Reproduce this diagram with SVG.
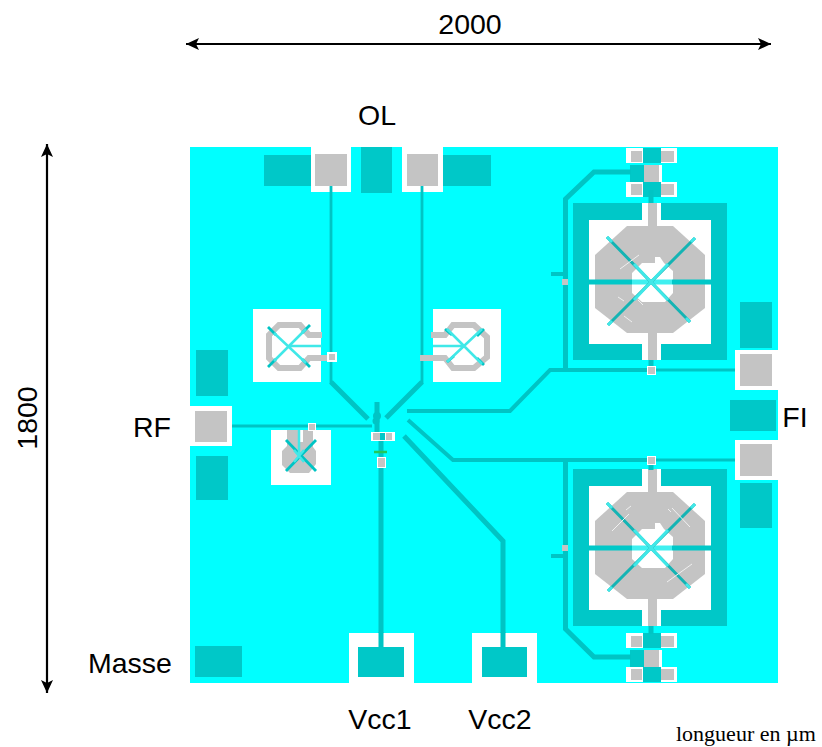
<svg xmlns="http://www.w3.org/2000/svg" xmlns:xlink="http://www.w3.org/1999/xlink" width="822" height="747" viewBox="0 0 822 747">
<style>
.d{fill:#00c8c8}.g{fill:#c4c4c4}.w{fill:#fff}.c{fill:#00ffff}
.l{fill:none;stroke:#00c4c4;stroke-width:5}
.m4{fill:none;stroke:#00c4c4;stroke-width:4}
.t{fill:none;stroke:#00c4c4;stroke-width:2.800}
.dg{fill:none;stroke:#14b4b4;stroke-width:3}
.cy{fill:none;stroke:#40e8e8;stroke-width:3}
.hl{fill:none;stroke:#f0f0f0;stroke-width:1}
.a{fill:none;stroke:#000;stroke-width:2.200;marker-start:url(#s);marker-end:url(#e)}
text{font-family:"Liberation Sans",Arial,sans-serif;font-size:28.500px;fill:#000}
.m{text-anchor:middle}
</style>
<defs>
<marker id="e" markerUnits="userSpaceOnUse" markerWidth="14" markerHeight="12" refX="13" refY="6" orient="auto"><path d="M0 0L13 6L0 12L3 6Z" fill="#000"/></marker>
<marker id="s" markerUnits="userSpaceOnUse" markerWidth="14" markerHeight="12" refX="1" refY="6" orient="auto"><path d="M14 0L1 6L14 12L11 6Z" fill="#000"/></marker>
<g id="bigInd">
<rect class="d" x="573" y="0" width="154" height="157"/>
<rect class="w" x="589" y="17" width="122" height="124"/>
<rect class="w" x="642" y="0" width="19" height="20"/><rect class="w" x="642" y="138" width="19" height="19"/>
<rect class="g" x="648" y="0" width="9" height="26"/><rect class="g" x="648" y="128" width="9" height="29"/>
<path class="g" d="M627 23H673L705 52V105L673 130H627L595 105V52Z"/>
<path class="w" d="M632 70L642 60H655V54H660L664 60L673 68V90L665 99H642L632 90Z"/>
<path d="M589 79H632" stroke="#00c8c8" stroke-width="5"/><path d="M672 79H711" stroke="#00c8c8" stroke-width="5"/>
<path d="M632 79H672" stroke="#40f0f0" stroke-width="5"/>
<path class="dg" d="M607 34L690 119M695 35L608 122"/>
<path class="cy" d="M634 61L668 97M668 61L634 97"/>
<path class="cy" d="M607 34L612 39M690 119L686 115M695 35L691 39M608 122L612 118"/>
</g>
<g id="chk">
<rect class="w" x="626" y="0" width="51" height="15"/><rect class="g" x="631" y="3" width="11" height="11"/><rect class="d" x="643" y="0" width="18" height="15"/><rect class="g" x="661" y="3" width="13" height="11"/>
<rect class="d" x="630" y="17" width="14" height="17"/><rect class="w" x="644" y="17" width="18" height="17"/><rect class="g" x="644" y="17" width="15" height="17"/>
<rect class="w" x="626" y="34" width="51" height="15"/><rect class="g" x="631" y="36" width="11" height="11"/><rect class="d" x="643" y="34" width="18" height="15"/><rect class="g" x="661" y="36" width="13" height="11"/>
</g>
</defs>
<rect id="chip" class="c" x="190" y="147" width="588" height="536"/>
<g id="ind-top"><use xlink:href="#bigInd" href="#bigInd" y="203"/>
<path class="hl" d="M620 269L639 255M618 297L624 301M638 300L643 305M624 316L632 322"/></g>
<g id="ind-bottom"><use xlink:href="#bigInd" href="#bigInd" y="469"/>
<path class="hl" d="M612 531L629 514M626 510L631 506M672 508L690 527M668 509L671 512M667 582L692 564"/></g>
<g id="chk-top"><use xlink:href="#chk" href="#chk" y="148"/></g>
<g id="chk-bottom"><use xlink:href="#chk" href="#chk" y="633"/></g>
<g id="connectors">
<path class="l" d="M631 172H594L565.500 199V370"/>
<path class="l" d="M631 657H594L565.500 629V460"/>
<path class="m4" d="M551 274H566M551 556H566"/>
<path class="l" d="M651 190V203M651 360V370M651 460V470M651 626V634"/>
<path class="m4" d="M407 411H510L550 370H650M408 420L453 460H650"/>
<path class="t" d="M650 370H737M650 460H737"/>
<path class="t" d="M331 192V384M422 192V384"/>
<path class="l" d="M331 382L368 419M422 382L386 418"/>
<path class="t" d="M228 426H372"/>
<path class="l" d="M377 402V432M381 440V647M503 647V541L404 436"/>
<circle cx="377" cy="416" r="4" fill="#00c4c4"/><circle cx="376" cy="421" r="3.500" fill="#00c4c4"/>
</g>
<g id="pads-top">
<rect class="d" x="264" y="155" width="47" height="31"/>
<rect class="w" x="311" y="147" width="40" height="45"/><rect class="g" x="315" y="154" width="32" height="32"/>
<rect class="d" x="361" y="147" width="31" height="46"/>
<rect class="w" x="402" y="147" width="41" height="45"/><rect class="g" x="407" y="154" width="31" height="32"/>
<rect class="d" x="443" y="155" width="48" height="31"/>
<path class="t" d="M331 186V192M422 186V192"/>
</g>
<g id="pads-right">
<rect class="d" x="740" y="302" width="32" height="46"/>
<rect class="w" x="735" y="350" width="43" height="40"/><rect class="g" x="740" y="354" width="32" height="32"/>
<rect class="d" x="730" y="400" width="46" height="31"/>
<rect class="w" x="735" y="440" width="43" height="40"/><rect class="g" x="740" y="444" width="32" height="32"/>
<rect class="d" x="740" y="483" width="32" height="45"/>
</g>
<g id="pads-left">
<rect class="d" x="196" y="350" width="32" height="46"/>
<rect class="w" x="190" y="406" width="42" height="40"/><rect class="g" x="195" y="411" width="32" height="31"/>
<rect class="d" x="196" y="456" width="32" height="44"/>
<rect class="d" x="195" y="646" width="47" height="31"/>
</g>
<g id="pads-bottom">
<rect class="w" x="349" y="633" width="65" height="50"/><rect class="d" x="358" y="647" width="46" height="30"/>
<rect class="w" x="472" y="633" width="65" height="50"/><rect class="d" x="482" y="647" width="45" height="30"/>
<path class="l" d="M381 632V647M503 632V647"/>
</g>
<g id="ind-left">
<rect class="w" x="253" y="309" width="68" height="73"/>
<path fill="none" stroke="#c4c4c4" stroke-width="6" d="M322 335H309L300 325H279L269 335V358L279 368H300L309 358H328"/>
<path class="t" d="M268 327L276 335M310 325L302 333M268 367L276 359M310 367L302 359"/>
<path fill="none" stroke="#40e8e8" stroke-width="2.500" d="M274 333L306 363M306 329L274 361M289 346H322"/>
<rect class="w" x="327" y="352" width="10" height="10"/><rect class="g" x="329" y="354" width="6" height="6"/>
</g>
<g id="ind-right">
<rect class="w" x="433" y="309" width="68" height="73"/>
<path fill="none" stroke="#c4c4c4" stroke-width="6" d="M431 335H445L453 325H474L487 337V357L474 368H453L445 358H420"/>
<path class="t" d="M445 329L452 335M484 329L477 336M447 362L454 356M484 365L477 358"/>
<path fill="none" stroke="#40e8e8" stroke-width="2.500" d="M447 329L482 364M482 329L447 362M433 346H464"/>
</g>
<g id="ind-small">
<rect class="w" x="271" y="430" width="60" height="55"/>
<path class="g" d="M287 430H298V442H303V430H313V447L316 451V464L309 473H290L282 465V451L287 446Z"/>
<path class="t" d="M286 440L316 471M316 440L286 471"/>
<path fill="none" stroke="#40e8e8" stroke-width="2.500" d="M299 430V456M294 450L304 462M304 450L294 462"/>
<rect class="w" x="308" y="423" width="8" height="8"/><rect class="g" x="309" y="424" width="6" height="6"/>
</g>
<g id="center">
<rect class="g" x="562" y="279" width="6" height="6"/><rect class="g" x="562" y="545" width="6" height="6"/>
<rect class="w" x="647" y="366" width="9" height="9"/><rect class="g" x="648" y="367" width="7" height="7"/>
<rect class="w" x="647" y="456" width="9" height="9"/><rect class="g" x="648" y="457" width="7" height="7"/>
<rect class="w" x="371" y="432" width="24" height="9"/><rect class="g" x="373" y="433" width="7" height="7"/><rect class="g" x="386" y="433" width="6" height="7"/><rect class="d" x="380" y="433" width="5" height="7"/>
<path d="M374 452H387" stroke="#22c85a" stroke-width="2.500"/>
<rect class="w" x="377" y="457" width="9" height="11"/><rect class="g" x="378" y="458" width="7" height="9"/>
</g>
<g id="labels">
<path class="a" d="M186 44H771"/>
<path class="a" d="M47 144V693"/>
<text class="m" x="470" y="34">2000</text>
<text class="m" x="377" y="125">OL</text>
<text class="m" x="152" y="437">RF</text>
<text class="m" x="795" y="427">FI</text>
<text class="m" x="130" y="673">Masse</text>
<text class="m" x="380" y="729">Vcc1</text>
<text class="m" x="500" y="729">Vcc2</text>
<text class="m" transform="translate(37 418) rotate(-90)">1800</text>
<text x="676" y="741" style="font-family:'Liberation Serif','Times New Roman',serif;font-size:22px">longueur en µm</text>
</g>
</svg>
